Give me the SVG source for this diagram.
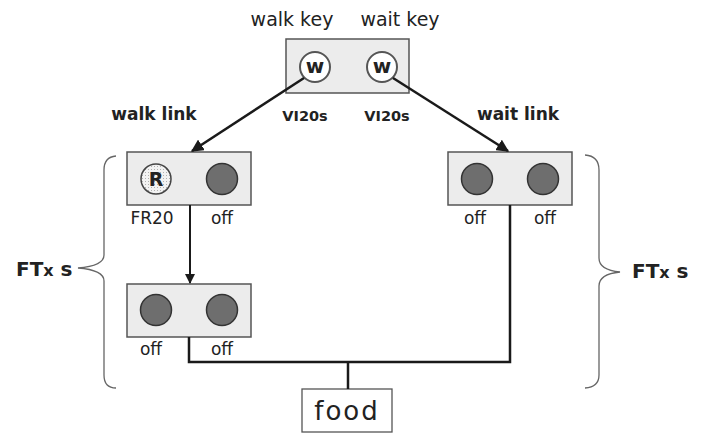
<svg xmlns="http://www.w3.org/2000/svg" width="707" height="434" viewBox="0 0 707 434">
<defs>
<marker id="ah" viewBox="0 0 10 10" refX="9" refY="5" markerWidth="5" markerHeight="5" orient="auto" markerUnits="strokeWidth">
<path d="M0,0 L10,5 L0,10 z" fill="#1a1a1a"/>
</marker>
<pattern id="dots" width="3" height="3" patternUnits="userSpaceOnUse">
<rect width="3" height="3" fill="#f2f2f2"/>
<rect x="1" y="1" width="1" height="1" fill="#b0b0b0"/>
</pattern>
</defs>
<style>
.box{fill:#ececec;stroke:#555;stroke-width:1.5}
.lamp{fill:#6e6e6e;stroke:#333;stroke-width:1.5}
.key{fill:#fff;stroke:#555;stroke-width:2}
.t{font-family:"DejaVu Sans","Noto Sans",sans-serif;fill:#222}
.lbl{font-size:19px}
.sm{font-size:17px}
.b{font-weight:bold}
.ln{stroke:#1a1a1a;stroke-width:2.5;fill:none}
.br{stroke:#666;stroke-width:1.3;fill:none}
</style>
<rect width="707" height="434" fill="#fff"/>

<g id="top-keys">
<rect class="box" x="286" y="39" width="123" height="54"/>
<circle class="key" cx="315" cy="67" r="15"/>
<text class="t b" x="315" y="73" font-size="20" text-anchor="middle">w</text>
<circle class="key" cx="382" cy="67" r="15"/>
<text class="t b" x="382" y="73" font-size="20" text-anchor="middle">w</text>
<text class="t lbl" x="292" y="26" text-anchor="middle">walk key</text>
<text class="t lbl" x="400" y="26" text-anchor="middle">wait key</text>
<text class="t b" x="305" y="121" font-size="14.5" text-anchor="middle" fill="#333">VI20s</text>
<text class="t b" x="387" y="121" font-size="14.5" text-anchor="middle" fill="#333">VI20s</text>
</g>

<g id="walk-link">
<rect class="box" x="127" y="152" width="124" height="53"/>
<circle cx="156" cy="179" r="15" fill="url(#dots)" stroke="#444" stroke-width="1.5"/>
<text class="t b" x="156" y="186" font-size="19" text-anchor="middle">R</text>
<circle class="lamp" cx="222" cy="179" r="15.5"/>
<text class="t sm" x="152" y="224" text-anchor="middle">FR20</text>
<text class="t sm" x="222" y="224" text-anchor="middle">off</text>
<text class="t b" x="154" y="120" font-size="17" text-anchor="middle">walk link</text>
</g>

<g id="wait-link">
<rect class="box" x="448" y="152" width="124" height="53"/>
<circle class="lamp" cx="477" cy="179" r="15.5"/>
<circle class="lamp" cx="543" cy="179" r="15.5"/>
<text class="t sm" x="475" y="224" text-anchor="middle">off</text>
<text class="t sm" x="545" y="224" text-anchor="middle">off</text>
<text class="t b" x="518" y="120" font-size="17" text-anchor="middle">wait link</text>
</g>

<g id="terminal">
<rect class="box" x="127" y="284" width="124" height="53"/>
<circle class="lamp" cx="156" cy="310" r="15.5"/>
<circle class="lamp" cx="222" cy="310" r="15.5"/>
<text class="t sm" x="151" y="355" text-anchor="middle">off</text>
<text class="t sm" x="222" y="355" text-anchor="middle">off</text>
</g>

<g id="food">
<rect x="302" y="389" width="90" height="43" fill="#fff" stroke="#555" stroke-width="1.3"/>
<text class="t" x="347" y="420" font-size="26" text-anchor="middle" letter-spacing="2">food</text>
</g>

<g id="ft-left">
<path class="br" d="M116,156 Q104,157 104,170 L104,255 Q104,266 78,268 Q104,270 104,281 L104,375 Q104,388 116,388"/>
<text class="t b" x="16" y="276" font-size="20">FT<tspan font-size="16">x</tspan> s</text>
</g>

<g id="ft-right">
<path class="br" d="M585,155 Q599,156 599,170 L599,258 Q599,270 620,272 Q599,274 599,286 L599,375 Q599,387 585,388"/>
<text class="t b" x="632" y="278" font-size="20">FT<tspan font-size="16">x</tspan> s</text>
</g>

<g id="connectors">
<line class="ln" x1="304" y1="78" x2="192" y2="151" marker-end="url(#ah)"/>
<line class="ln" x1="393" y1="78" x2="508" y2="151" marker-end="url(#ah)"/>
<line x1="190" y1="205" x2="190" y2="283" stroke="#1a1a1a" stroke-width="2" marker-end="url(#ah)"/>
<polyline class="ln" points="189,337 189,362 510,362 510,205"/>
<line class="ln" x1="348" y1="362" x2="348" y2="389"/>
</g>
</svg>
